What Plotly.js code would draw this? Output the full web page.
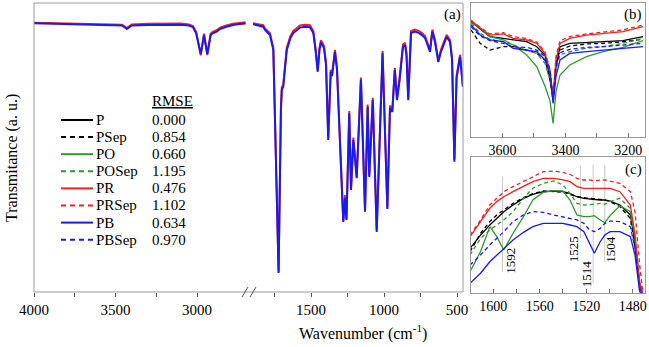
<!DOCTYPE html>
<html>
<head>
<meta charset="utf-8">
<script src="https://cdn.plot.ly/plotly-3.0.1.min.js"></script>
<style>
  html, body { margin: 0; padding: 0; background: #fff; }
  #chart { width: 649px; height: 347px; }
</style>
</head>
<body>
<div id="chart"></div>
<script>
// panel (a), high wavenumber part (left of the axis break)
const wnHigh = [4000, 3900, 3800, 3700, 3600, 3500, 3460, 3430, 3400, 3300, 3200, 3100, 3050, 3025, 3005,
  2992, 2977, 2957, 2937, 2916, 2900, 2879, 2859, 2820, 2779, 2740, 2702];
const pbHigh = [93.0, 92.9, 92.8, 92.7, 92.6, 92.4, 92.2, 91.0, 92.2, 92.4, 92.5, 92.5, 92.2, 91.7, 89.5,
  86.2, 82.4, 88.9, 82.4, 88.9, 89.6, 90.1, 91.0, 91.8, 92.4, 92.7, 92.9];
const prHigh = [93.2, 93.1, 93.0, 92.9, 92.8, 92.7, 92.5, 91.4, 92.6, 92.8, 92.9, 92.9, 92.6, 92.0, 89.9,
  86.6, 81.9, 89.4, 82.0, 89.4, 90.1, 90.6, 91.5, 92.2, 92.8, 93.1, 93.3];

// panel (a), fingerprint part (right of the break)
const wnLow = [1897, 1860, 1827, 1815, 1800, 1781, 1758, 1748, 1722, 1706, 1700, 1690, 1666, 1640, 1621,
  1575, 1541, 1507, 1484, 1469, 1454, 1442, 1432, 1411, 1397, 1382, 1365, 1356, 1336, 1322, 1301, 1279,
  1267, 1257, 1238, 1226, 1210, 1187, 1158, 1130, 1112, 1101, 1077, 1050, 1010, 977, 959, 943, 926, 911,
  894, 870, 856, 846, 834, 815, 788, 760, 740, 719, 685, 669, 651, 628, 610, 571, 548, 534, 518, 503, 479, 460];
const pbLow = [92.7, 92.2, 91.8, 90.7, 89.8, 88.9, 83.7, 63.0, 6.6, 63.0, 69.9, 71.0, 83.7, 88.0, 89.6,
  91.5, 91.8, 91.6, 89.6, 83.7, 76.2, 83.7, 86.4, 84.4, 78.5, 52.6, 76.2, 74.7, 83.1, 76.9, 50.3, 24.2,
  32.5, 24.9, 61.8, 35.3, 52.6, 39.4, 73.4, 27.8, 64.1, 39.8, 66.4, 20.8, 82.6, 28.7, 63.7, 62.3, 76.8, 66.4,
  73.0, 84.9, 85.5, 82.0, 66.4, 89.6, 90.1, 89.6, 88.9, 87.9, 83.1, 90.1, 86.5, 79.6, 83.1, 88.3, 86.5, 80.3, 45.1, 74.0, 81.4, 71.0];
const prLow = [93.0, 92.6, 92.3, 91.2, 90.4, 89.5, 84.5, 64.0, 7.0, 64.0, 70.8, 71.8, 84.6, 88.7, 90.3,
  92.2, 92.5, 92.3, 90.3, 84.4, 76.8, 84.4, 87.1, 85.1, 79.2, 53.2, 76.9, 75.4, 83.8, 77.6, 51.0, 24.6,
  33.5, 25.3, 62.6, 35.8, 53.4, 39.9, 74.2, 28.2, 64.9, 40.3, 67.2, 21.3, 83.4, 29.2, 64.5, 63.1, 77.6, 67.2,
  73.8, 85.6, 86.2, 82.8, 67.0, 90.3, 90.8, 90.3, 89.6, 88.6, 83.8, 90.8, 87.2, 80.3, 83.8, 89.0, 87.2, 81.0, 45.8, 74.8, 82.1, 71.7];

// panel (b): O-H region
const wnB = [3700, 3671, 3640, 3597, 3566, 3523, 3491, 3465, 3449, 3439, 3430, 3417, 3386, 3333, 3280, 3217, 3153];
const bP     = [86.1, 80.4, 74.9, 73.6, 72.4, 71.1, 67.4, 61.2, 45.0, 27.6, 52.5, 67.4, 69.9, 70.6, 71.1, 71.9, 74.9];
const bPSep  = [79.9, 69.9, 64.9, 67.4, 67.4, 64.9, 62.4, 57.5, 42.5, 28.9, 55.0, 64.9, 67.9, 69.4, 69.9, 71.1, 72.9];
const bPO    = [87.3, 81.1, 74.9, 72.4, 68.7, 61.2, 52.5, 38.0, 27.0, 10.2, 33.8, 46.3, 53.7, 59.9, 63.7, 66.9, 71.9];
const bPOSep = [84.8, 77.4, 72.9, 71.1, 68.7, 65.4, 62.4, 55.0, 42.5, 26.4, 50.0, 61.2, 63.7, 66.2, 67.4, 69.9, 73.6];
const bPR    = [86.1, 81.1, 76.1, 76.9, 73.6, 72.4, 69.9, 62.4, 50.0, 28.9, 57.5, 69.9, 73.6, 76.1, 77.4, 78.6, 82.3];
const bPRSep = [86.8, 81.8, 76.9, 77.9, 74.9, 73.4, 70.9, 63.7, 50.5, 30.1, 59.9, 71.9, 74.9, 76.9, 78.4, 79.9, 83.6];
const bPB    = [83.6, 76.1, 72.4, 71.1, 66.2, 64.9, 63.7, 57.5, 47.5, 25.1, 45.0, 57.5, 62.4, 63.7, 64.9, 66.2, 67.4];
const bPBSep = [82.3, 75.4, 71.9, 69.9, 67.4, 66.9, 64.9, 59.9, 50.0, 27.6, 52.5, 62.9, 65.4, 66.9, 67.4, 68.7, 69.9];

// panel (c): 1620-1470 region
const wnC = [1620, 1611, 1603, 1597, 1591, 1583, 1574, 1566, 1557, 1548, 1540, 1534, 1528, 1522, 1517, 1513,
  1508, 1504, 1499.5, 1491, 1482, 1478, 1474, 1471];
const cP     = [32.8, 42.6, 50.0, 54.9, 59.8, 64.7, 69.6, 72.5, 74.5, 75.0, 74.5, 73.3, 70.8, 69.6, 69.1, 68.9, 68.4, 68.4, 67.6, 64.7, 57.4, 37.7, 5.9, -1.5];
const cPSep  = [30.4, 43.9, 52.5, 57.4, 61.0, 65.9, 70.1, 73.0, 75.0, 74.5, 74.0, 72.5, 70.8, 70.1, 69.6, 69.6, 69.1, 68.4, 67.2, 63.5, 54.9, 32.8, 3.4, -1.5];
const cPO    = [15.7, 30.4, 48.8, 41.4, 31.6, 43.9, 56.1, 68.4, 74.0, 75.2, 75.0, 68.4, 57.4, 56.1, 56.1, 56.9, 53.7, 51.7, 56.9, 64.2, 59.8, 40.2, 3.4, -1.5];
const cPOSep = [27.9, 40.2, 46.3, 50.0, 53.7, 59.8, 69.6, 77.0, 80.6, 82.4, 79.4, 73.3, 65.9, 64.7, 64.7, 65.2, 65.9, 65.2, 67.2, 69.6, 62.3, 42.6, 5.9, -1.5];
const cPR    = [41.4, 52.5, 62.3, 67.2, 70.8, 74.5, 78.2, 81.9, 84.3, 84.3, 83.1, 81.9, 78.2, 77.0, 77.0, 77.0, 77.5, 77.0, 77.0, 74.5, 64.7, 42.6, 8.3, -1.5];
const cPRSep = [42.6, 53.7, 64.7, 69.6, 74.5, 78.2, 81.9, 85.5, 89.2, 89.7, 88.7, 87.3, 84.3, 83.1, 83.1, 82.4, 83.1, 83.1, 82.4, 80.6, 74.5, 59.8, 20.6, -1.5];
const cPB    = [7.1, 14.5, 23.0, 27.9, 32.8, 39.0, 44.6, 48.8, 51.2, 51.2, 51.2, 50.0, 48.8, 45.1, 36.5, 29.2, 37.7, 42.6, 45.1, 45.1, 41.4, 27.9, 1.0, -1.5];
const cPBSep = [20.6, 27.9, 35.3, 40.2, 45.1, 52.5, 57.4, 59.8, 59.3, 57.4, 56.1, 54.9, 53.7, 51.2, 46.3, 45.1, 47.5, 51.2, 52.9, 52.5, 48.8, 32.8, 3.4, -1.5];

const names = ["P", "PSep", "PO", "POSep", "PR", "PRSep", "PB", "PBSep"];
const rmse = ["0.000", "0.854", "0.660", "1.195", "0.476", "1.102", "0.634", "0.970"];
const marked = [1592, 1525, 1514, 1504];

// styles
const colors = ["#000000", "#000000", "#2e9a2e", "#2e9a2e", "#ee2222", "#ee2222", "#1a1aee", "#1a1aee"];
const dashed = [false, true, false, true, false, true, false, true];
const bSeries = [bP, bPSep, bPO, bPOSep, bPR, bPRSep, bPB, bPBSep];
const cSeries = [cP, cPSep, cPO, cPOSep, cPR, cPRSep, cPB, cPBSep];

const W = 649, H = 347;
const px = (v) => v / W;
const py = (v) => 1 - v / H;
const serif = "Liberation Serif, Times New Roman, serif";

const traces = [];
// main panel: red under blue, both segments
traces.push({ x: wnHigh, y: prHigh, xaxis: "x", yaxis: "y", mode: "lines", line: { color: colors[4], width: 2 }, name: "PR" });
traces.push({ x: wnHigh, y: pbHigh, xaxis: "x", yaxis: "y", mode: "lines", line: { color: colors[6], width: 2 }, name: "PB" });
traces.push({ x: wnLow, y: prLow, xaxis: "x2", yaxis: "y", mode: "lines", line: { color: colors[4], width: 2 }, name: "PR" });
traces.push({ x: wnLow, y: pbLow, xaxis: "x2", yaxis: "y", mode: "lines", line: { color: colors[6], width: 2 }, name: "PB" });

names.forEach((n, i) => {
  const line = { color: colors[i], width: 1.3, dash: dashed[i] ? "4px,3px" : "solid" };
  traces.push({ x: wnB, y: bSeries[i], xaxis: "x3", yaxis: "y3", mode: "lines", line: line, name: n });
  traces.push({ x: wnC, y: cSeries[i], xaxis: "x4", yaxis: "y4", mode: "lines", line: line, name: n });
});

const tickFont = { family: serif, size: 15, color: "#000" };
const smallTick = { family: serif, size: 14, color: "#000" };
const noY = { showticklabels: false, ticks: "", showgrid: false, zeroline: false, range: [0, 100], fixedrange: true };

const shapes = [
  // frame of panel (a)
  { type: "rect", xref: "paper", yref: "paper", x0: px(34), x1: px(463), y0: py(292), y1: py(3),
    line: { color: "#9a9a9a", width: 1 } },
  // axis break marks
  { type: "line", xref: "paper", yref: "paper", x0: px(242), x1: px(248), y0: py(297), y1: py(287), line: { color: "#555", width: 1 } },
  { type: "line", xref: "paper", yref: "paper", x0: px(250), x1: px(256), y0: py(297), y1: py(287), line: { color: "#555", width: 1 } },
];

// marker lines in (c)
const markTop = [85.5, 94.1, 94.1, 94.1];
const markBottom = [15.6, 40.4, 7.4, 22.8];
marked.forEach((w, i) => {
  shapes.push({ type: "line", xref: "x4", yref: "y4", x0: w, x1: w, y0: markBottom[i], y1: markTop[i],
    layer: "below", line: { color: "#c8c8c8", width: 1 } });
});

function note(text, x, y, opts) {
  return Object.assign({ text: text, xref: "paper", yref: "paper", x: px(x), y: py(y),
    xanchor: "center", yanchor: "middle", showarrow: false,
    font: { family: serif, size: 15, color: "#000" } }, opts || {});
}

const annotations = [
  note("Wavenumber (cm<sup>-1</sup>)", 363, 332, { font: { family: serif, size: 16, color: "#000" } }),
  note("Transmitance (a. u.)", 12, 158, { textangle: -90, font: { family: serif, size: 16, color: "#000" } }),
  note("(a)", 452, 15),
  note("(b)", 633, 15),
  note("(c)", 633, 170),
  note("<u>RMSE</u>", 150, 101, { xanchor: "left" }),
];

// legend drawn by hand with RMSE column
names.forEach((n, i) => {
  const yy = 120 + i * 17.1;
  shapes.push({ type: "line", xref: "paper", yref: "paper", x0: px(61), x1: px(93), y0: py(yy), y1: py(yy),
    line: { color: colors[i], width: 2, dash: dashed[i] ? "5px,4px" : "solid" } });
  annotations.push(note(n, 94, yy, { xanchor: "left" }));
  annotations.push(note(rmse[i], 150, yy, { xanchor: "left" }));
});

// labels of marked bands
const markLabelY = [23.5, 32.4, 14.0, 32.4];
const markShift = [7, -6, -6, 6];
marked.forEach((w, i) => {
  annotations.push({ text: String(w), xref: "x4", yref: "y4", x: w, y: markLabelY[i], xshift: markShift[i],
    xanchor: "center", yanchor: "middle",
    textangle: -90, showarrow: false, font: { family: serif, size: 13, color: "#000" } });
});

const layout = {
  width: W,
  height: H,
  margin: { l: 0, r: 0, t: 0, b: 0 },
  paper_bgcolor: "#fff",
  plot_bgcolor: "#fff",
  showlegend: false,
  font: { family: serif, color: "#000" },
  xaxis: {
    domain: [px(34), px(245.9)], range: [4000, 2700], anchor: "y",
    tickvals: [4000, 3750, 3500, 3250, 3000], ticktext: ["4000", "", "3500", "", "3000"],
    ticks: "outside", ticklen: 4, tickcolor: "#555", tickfont: tickFont,
    showgrid: false, zeroline: false, showline: false,
  },
  xaxis2: {
    domain: [px(252.6), px(463)], range: [1900, 459], anchor: "y",
    tickvals: [1750, 1500, 1250, 1000, 750, 500], ticktext: ["", "1500", "", "1000", "", "500"],
    ticks: "outside", ticklen: 4, tickcolor: "#555", tickfont: tickFont,
    showgrid: false, zeroline: false, showline: false,
  },
  yaxis: Object.assign({ domain: [py(292), py(3)], anchor: "x" }, noY),
  xaxis3: {
    domain: [px(471), px(645)], range: [3700, 3147], anchor: "y3",
    tickvals: [3600, 3500, 3400, 3300, 3200], ticktext: ["3600", "", "3400", "", "3200"],
    ticks: "inside", ticklen: 4, tickcolor: "#777", tickfont: smallTick,
    showline: true, mirror: true, linecolor: "#9a9a9a", linewidth: 1,
    showgrid: false, zeroline: false,
  },
  yaxis3: Object.assign({ domain: [py(137), py(3)], anchor: "x3", showline: true, mirror: true, linecolor: "#9a9a9a", linewidth: 1 }, noY),
  xaxis4: {
    domain: [px(471), px(645)], range: [1619.2, 1469.4], anchor: "y4",
    tickvals: [1600, 1580, 1560, 1540, 1520, 1500, 1480], ticktext: ["1600", "", "1560", "", "1520", "", "1480"],
    ticks: "inside", ticklen: 4, tickcolor: "#777", tickfont: smallTick,
    showline: true, mirror: true, linecolor: "#9a9a9a", linewidth: 1,
    showgrid: false, zeroline: false,
  },
  yaxis4: Object.assign({ domain: [py(293), py(157)], anchor: "x4", showline: true, mirror: true, linecolor: "#9a9a9a", linewidth: 1 }, noY),
  shapes: shapes,
  annotations: annotations,
};

Plotly.newPlot("chart", traces, layout, { displayModeBar: false, staticPlot: true });
</script>
</body>
</html>
